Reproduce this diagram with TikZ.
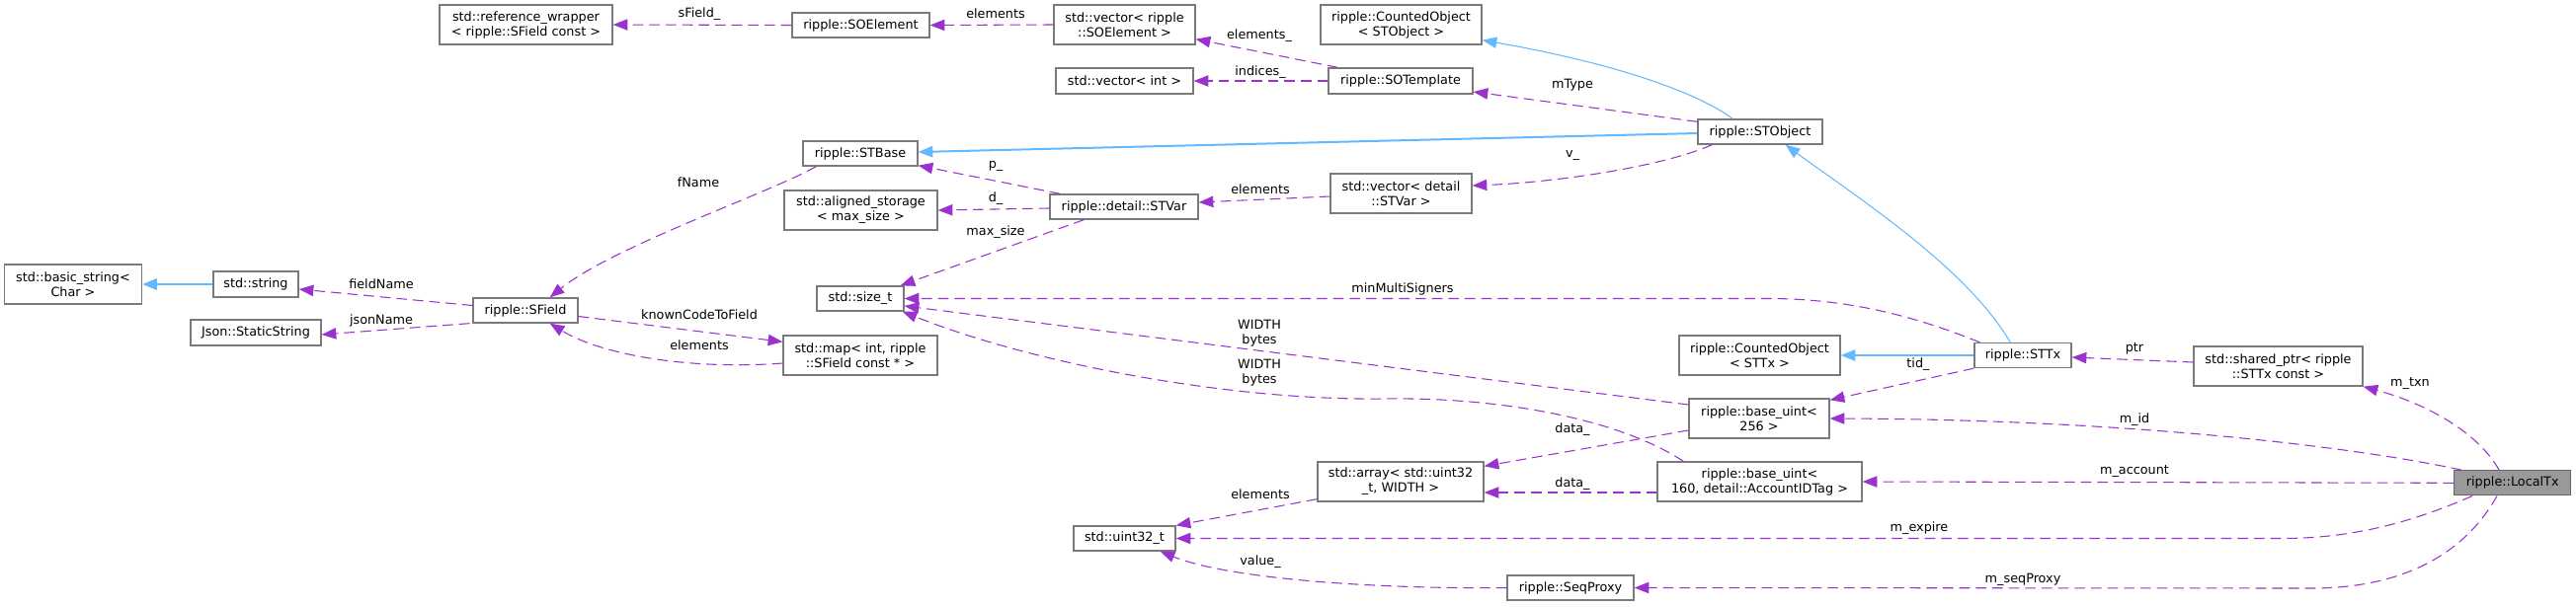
\documentclass[tikz,border=0pt]{standalone}
\usepackage{fontspec}
\setmainfont{DejaVu Sans}
\usetikzlibrary{arrows.meta,calc}
\definecolor{purp}{HTML}{9A32CD}
\definecolor{blu}{HTML}{63B8FF}
\definecolor{bord}{HTML}{7A7A7A}
\definecolor{dgray}{HTML}{999999}
\definecolor{dbord}{HTML}{666666}
\tikzset{
  box/.style={draw=bord, line width=1pt, fill=white, inner sep=0pt, align=center,
    font=\fontsize{9.6pt}{11.25pt}\selectfont},
  lbl/.style={inner sep=0pt, align=center, yshift=1.5pt, font=\fontsize{9.6pt}{11.25pt}\selectfont},
  dep/.style={draw=purp, line width=0.8pt, dash pattern=on 8pt off 4.5pt,
    -{Triangle[length=11pt,width=8.5pt]}},
  inh/.style={draw=blu, line width=0.8pt, -{Triangle[length=11pt,width=8.5pt]}},
  inhthick/.style={inh, line width=1.5pt}
}
\begin{document}
\begin{tikzpicture}[x=0.75pt,y=-0.75pt]
\useasboundingbox (0,0) rectangle (2608,614);
% nodes
\node[box, minimum width=131.25pt, minimum height=30pt] (refw) at (532.5,25) {std::reference\_wrapper\\< ripple::SField const >};
\node[box, minimum width=104.25pt, minimum height=18.75pt] (soel) at (871.5,25.5) {ripple::SOElement};
\node[box, minimum width=107.25pt, minimum height=30pt] (vecsoel) at (1138.5,25) {std::vector< ripple\\::SOElement >};
\node[box, minimum width=122.25pt, minimum height=30pt] (cobj) at (1418.5,25) {ripple::CountedObject\\< STObject >};
\node[box, minimum width=104.25pt, minimum height=19.5pt] (vecint) at (1138.5,82) {std::vector< int >};
\node[box, minimum width=109.5pt, minimum height=19.5pt] (sotmpl) at (1418,82) {ripple::SOTemplate};
\node[box, minimum width=94.5pt, minimum height=18.75pt] (stobj) at (1782,133.5) {ripple::STObject};
\node[box, minimum width=87pt, minimum height=18.75pt] (stbase) at (871,155.5) {ripple::STBase};
\node[box, minimum width=116.25pt, minimum height=30pt] (aligned) at (871.5,213) {std::aligned\_storage\\< max\_size >};
\node[box, minimum width=112.5pt, minimum height=18.75pt] (stvar) at (1138,209.5) {ripple::detail::STVar};
\node[box, minimum width=107.25pt, minimum height=30pt] (vecstvar) at (1418.5,196) {std::vector< detail\\::STVar >};
\node[box, minimum width=66pt, minimum height=18.75pt] (sizet) at (871,302.5) {std::size\_t};
\node[box, minimum width=104.25pt, minimum height=30pt] (basicstr) at (74,288) {std::basic\_string<\\Char >};
\node[box, minimum width=64.5pt, minimum height=19.5pt] (stdstr) at (259,288) {std::string};
\node[box, minimum width=79.5pt, minimum height=18.75pt] (sfield) at (532,314.5) {ripple::SField};
\node[box, minimum width=99pt, minimum height=19.5pt] (json) at (259,337) {Json::StaticString};
\node[box, minimum width=117pt, minimum height=30pt] (map) at (871,360) {std::map< int, ripple\\::SField const * >};
\node[box, minimum width=122.25pt, minimum height=30pt] (cobjsttx) at (1781.5,360) {ripple::CountedObject\\< STTx >};
\node[box, minimum width=73.5pt, minimum height=18.75pt] (sttx) at (2048,360) {ripple::STTx};
\node[box, minimum width=128.25pt, minimum height=30pt] (shptr) at (2306.5,371) {std::shared\_ptr< ripple\\::STTx const >};
\node[box, minimum width=106.5pt, minimum height=30pt] (bu256) at (1781,424) {ripple::base\_uint<\\256 >};
\node[box, minimum width=155.25pt, minimum height=30pt] (bu160) at (1781.5,488) {ripple::base\_uint<\\160, detail::AccountIDTag >};
\node[box, minimum width=126pt, minimum height=30pt] (array) at (1418,488) {std::array< std::uint32\\\_t, WIDTH >};
\node[box, minimum width=77.25pt, minimum height=18.75pt] (uint32) at (1138.5,545.5) {std::uint32\_t};
\node[box, minimum width=96pt, minimum height=18.75pt] (seqproxy) at (1590,595.5) {ripple::SeqProxy};
\node[box, draw=dbord, fill=dgray, minimum width=88.5pt, minimum height=18.75pt] (localtx) at (2543.7,489.3) {ripple::LocalTx};
% labels
\node[lbl] (l1) at (708,16) {sField\_};
\node[lbl] (l2) at (1008,16) {elements};
\node[lbl] (l3) at (1275,38) {elements\_};
\node[lbl] (l4) at (1276,75) {indices\_};
\node[lbl] (l5) at (1592,88) {mType};
\node[lbl] (l6) at (1592,160) {v\_};
\node[lbl] (l7) at (1008,170) {p\_};
\node[lbl] (l8) at (1008,203) {d\_};
\node[lbl] (l9) at (1276,194) {elements};
\node[lbl] (l10) at (1008,237) {max\_size};
\node[lbl] (l11) at (707,187) {fName};
\node[lbl] (l12) at (386,290) {fieldName};
\node[lbl] (l13) at (386,327) {jsonName};
\node[lbl] (l14) at (708,321) {knownCodeToField};
\node[lbl] (l15) at (708,352) {elements};
\node[lbl] (l16) at (1420,295) {minMultiSigners};
\node[lbl] (l17) at (1275,340) {WIDTH\\bytes};
\node[lbl] (l18) at (1275,380) {WIDTH\\bytes};
\node[lbl] (l19) at (1942,371) {tid\_};
\node[lbl] (l20) at (2161,355) {ptr};
\node[lbl] (l21) at (2440,391) {m\_txn};
\node[lbl] (l22) at (2161,427) {m\_id};
\node[lbl] (l23) at (2161,480) {m\_account};
\node[lbl] (l24) at (1592,437) {data\_};
\node[lbl] (l25) at (1592,492) {data\_};
\node[lbl] (l26) at (1276,503) {elements};
\node[lbl] (l27) at (1943,537) {m\_expire};
\node[lbl] (l28) at (1276,571) {value\_};
\node[lbl] (l29) at (2048,589) {m\_seqProxy};
% edges
\draw[dep] (soel.west) -- (refw.east);
\draw[dep] (vecsoel.west) -- (soel.east);
\draw[dep] ($(sotmpl.north west)+(10,0)$) -- ($(vecsoel.south east)+(0,-6)$);
\draw[dep] (sotmpl.west) -- (vecint.east);
\draw[dep] ($(stobj.north west)+(0,3)$) -- ($(sotmpl.east)+(0,11)$);
\draw[inh] ($(stobj.north west)+(36,0)$) .. controls (1720,95) and (1640,65) .. ($(cobj.south east)+(0,-5)$);
\draw[inhthick] ($(stobj.west)+(0,1.5)$) -- ($(stbase.east)+(0,-1.5)$);
\draw[dep] ($(stobj.south west)+(15,0)$) .. controls (1680,170) and (1570,185) .. ($(vecstvar.east)+(0,-8)$);
\draw[dep] ($(vecstvar.west)+(0,3)$) -- ($(stvar.east)+(0,-4.5)$);
\draw[dep] ($(stvar.north west)+(11,0)$) -- ($(stbase.south east)+(0,-1)$);
\draw[dep] ($(stvar.west)+(0,1.5)$) -- (aligned.east);
\draw[dep] ($(stvar.south west)+(35,0)$) -- ($(sizet.north east)+(-4,0)$);
\draw[dep] ($(stbase.south west)+(14,0)$) .. controls (780,195) and (620,250) .. ($(sfield.north east)+(-29,0)$);
\draw[dep] ($(sfield.west)+(0,-5)$) -- ($(stdstr.east)+(0,5)$);
\draw[inhthick] (stdstr.west) -- (basicstr.east);
\draw[dep] ($(sfield.south west)+(-3,0)$) -- ($(json.east)+(0,2)$);
\draw[dep] ($(sfield.east)+(0,6)$) -- ($(map.north west)+(0,7)$);
\draw[dep] ($(map.west)+(0,8)$) .. controls (700,375) and (610,360) .. ($(sfield.south east)+(-29,0)$);
\draw[dep] ($(sttx.north west)+(6,0)$) .. controls (1950,325) and (1880,302.5) .. (1790,302.5) -- (sizet.east);
\draw[inh] ($(sttx.north west)+(37,0)$) .. controls (1990,270) and (1880,200) .. ($(stobj.south east)+(-38,0)$);
\draw[inhthick] (sttx.west) -- (cobjsttx.east);
\draw[dep] (sttx.south west) -- ($(bu256.north east)+(0,2)$);
\draw[dep] ($(bu256.west)+(0,-14)$) -- ($(sizet.east)+(0,7.5)$);
\draw[dep] ($(bu160.north west)+(27,0)$) .. controls (1640,425) and (1520,402) .. (1400,404) .. controls (1250,406) and (1050,370) .. ($(sizet.south east)+(-2,0)$);
\draw[dep] ($(bu256.west)+(0,12)$) -- ($(array.north east)+(0,5)$);
\draw[dep] ($(bu160.west)+(0,11)$) -- ($(array.east)+(0,11)$);
\draw[dep] ($(array.south west)+(0,-3)$) -- (uint32.north east);
\draw[dep] (seqproxy.west) .. controls (1380,597) and (1240,585) .. ($(uint32.south east)+(-16,0)$);
\draw[dep] ($(shptr.west)+(0,-4)$) -- ($(sttx.east)+(0,2)$);
\draw[dep] ($(localtx.north west)+(46,0)$) .. controls (2510,440) and (2460,410) .. (shptr.south east);
\draw[dep] ($(localtx.north west)+(8,0)$) .. controls (2380,452) and (2150,425) .. (bu256.east);
\draw[dep] (localtx.west) -- (bu160.east);
\draw[dep] ($(localtx.south west)+(19,0)$) .. controls (2440,530) and (2380,545.5) .. (2310,545.5) -- (uint32.east);
\draw[dep] ($(localtx.south west)+(44,0)$) .. controls (2490,570) and (2420,596) .. (2340,596) -- (seqproxy.east);
\end{tikzpicture}
\end{document}
